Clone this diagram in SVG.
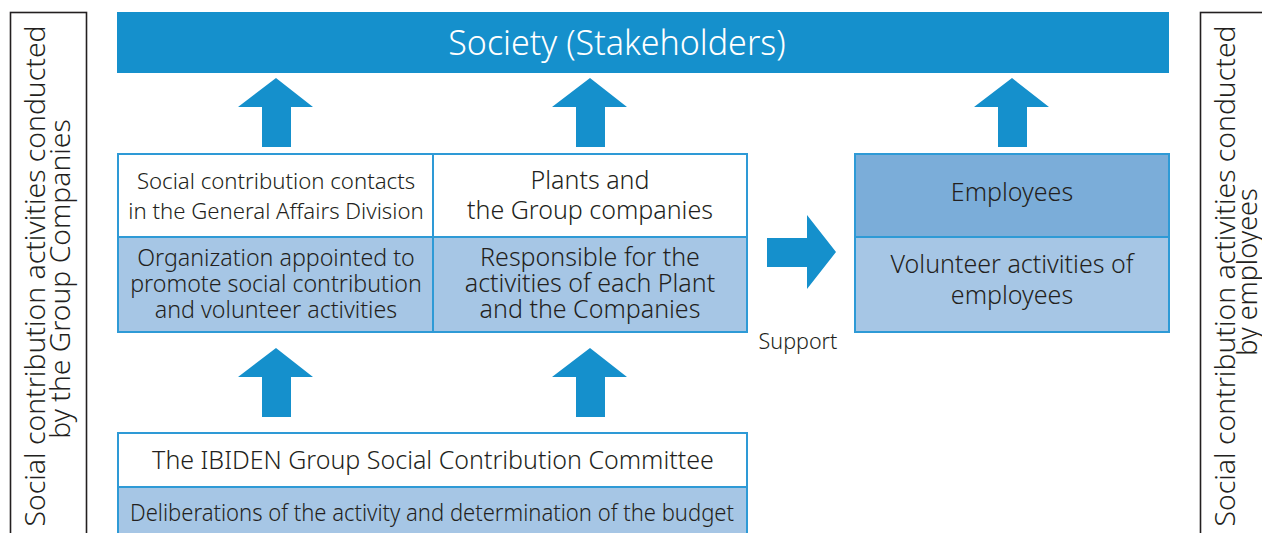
<svg xmlns="http://www.w3.org/2000/svg" width="1262" height="533" viewBox="0 0 1262 533">
<style>
  text { font-family: "Noto Sans", "Open Sans", sans-serif; font-weight: 300; fill: #231f20; text-anchor: middle; }
  .side { font-size: 27px; }
  .box { stroke: #2e9ad6; stroke-width: 2; }
  .white { fill: #ffffff; }
  .light { fill: #a6c6e5; }
  .mid { fill: #7badd9; }
  .arrow { fill: #1590cc; }
  .t21 { font-size: 21.5px; }
  .t22 { font-size: 22.2px; }
  .t23 { font-size: 23.2px; }
  .t25 { font-size: 25px; }
</style>
<rect width="1262" height="533" fill="#ffffff"/>

<g id="left-bracket">
  <rect x="10.5" y="12.5" width="76" height="540" fill="none" stroke="#231f20" stroke-width="1.6"/>
  <text class="side" transform="translate(45,276) rotate(-90)" textLength="501" lengthAdjust="spacingAndGlyphs">Social contribution activities conducted</text>
  <text class="side" transform="translate(70,279) rotate(-90)" style="font-size:28.3px">by the Group Companies</text>
</g>

<g id="right-bracket">
  <rect x="1200.5" y="12.5" width="76" height="540" fill="none" stroke="#231f20" stroke-width="1.6"/>
  <text class="side" transform="translate(1235,276) rotate(-90)" textLength="501" lengthAdjust="spacingAndGlyphs">Social contribution activities conducted</text>
  <text class="side" transform="translate(1257,272) rotate(-90)">by employees</text>
</g>

<g id="society">
  <rect x="117" y="12" width="1052" height="61" fill="#1590cc"/>
  <text x="617" y="55" style="font-size:34px; fill:#ffffff">Society (Stakeholders)</text>
</g>

<g id="connectors">
  <path class="arrow" d="M276,78 L313,107 L291,107 L291,147 L262,147 L262,107 L238,107 Z"/>
  <path class="arrow" d="M590,78 L627,107 L605,107 L605,147 L576,147 L576,107 L552,107 Z"/>
  <path class="arrow" d="M1012,78 L1049,107 L1027,107 L1027,147 L998,147 L998,107 L974,107 Z"/>
  <path class="arrow" d="M276,348 L313,377 L291,377 L291,417 L262,417 L262,377 L238,377 Z"/>
  <path class="arrow" d="M590,348 L627,377 L605,377 L605,417 L576,417 L576,377 L552,377 Z"/>
  <path class="arrow" d="M836,252 L807,215 L807,238 L767,238 L767,267 L807,267 L807,289 Z"/>
  <text x="798" y="349" class="t21">Support</text>
</g>

<g id="general-affairs">
  <rect class="box white" x="118" y="154" width="315" height="83"/>
  <rect class="box light" x="118" y="237" width="315" height="95"/>
  <text x="276" y="189" class="t22">Social contribution contacts</text>
  <text x="276" y="219" class="t22">in the General Affairs Division</text>
  <text x="276" y="266" class="t23">Organization appointed to</text>
  <text x="276" y="292" class="t23">promote social contribution</text>
  <text x="276" y="318" class="t23">and volunteer activities</text>
</g>

<g id="plants">
  <rect class="box white" x="433" y="154" width="314" height="83"/>
  <rect class="box light" x="433" y="237" width="314" height="95"/>
  <text x="590" y="189" class="t25">Plants and</text>
  <text x="590" y="219" class="t25">the Group companies</text>
  <text x="590" y="266" class="t25">Responsible for the</text>
  <text x="590" y="292" class="t25">activities of each Plant</text>
  <text x="590" y="318" class="t25">and the Companies</text>
</g>

<g id="employees">
  <rect class="box mid" x="855" y="154" width="314" height="83"/>
  <rect class="box light" x="855" y="237" width="314" height="95"/>
  <text x="1012" y="201" class="t25">Employees</text>
  <text x="1012" y="273" class="t25">Volunteer activities of</text>
  <text x="1012" y="304" class="t25">employees</text>
</g>

<g id="committee">
  <rect class="box white" x="118" y="433" width="629" height="54"/>
  <rect class="box light" x="118" y="487" width="629" height="60"/>
  <text x="433" y="469" class="t25">The IBIDEN Group Social Contribution Committee</text>
  <text x="432" y="521" class="t23" textLength="604" lengthAdjust="spacingAndGlyphs">Deliberations of the activity and determination of the budget</text>
</g>
</svg>
